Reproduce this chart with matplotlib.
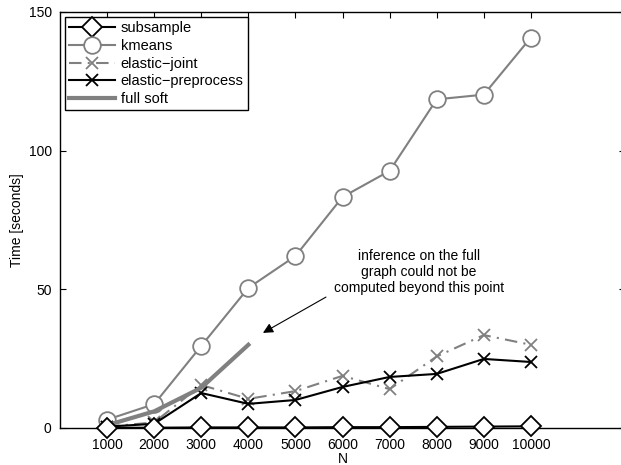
import matplotlib
matplotlib.use("Agg")
import matplotlib.pyplot as plt

plt.rcParams['font.family'] = ['Liberation Sans', 'DejaVu Sans']

N = [1000, 2000, 3000, 4000, 5000, 6000, 7000, 8000, 9000, 10000]
subsample = [0.1, 0.1, 0.2, 0.2, 0.2, 0.3, 0.3, 0.4, 0.5, 0.6]
kmeans = [3.0, 8.6, 29.6, 50.5, 62.0, 83.3, 92.7, 118.5, 120.2, 140.8]
elastic_joint = [0.5, 2.0, 15.5, 10.5, 13.3, 18.8, 14.0, 25.8, 33.5, 30.0]
elastic_pre = [0.5, 1.5, 12.6, 8.7, 10.1, 14.8, 18.4, 19.5, 24.9, 23.8]
N_soft = [1000, 2000, 3000, 4000]
full_soft = [1.0, 6.0, 14.5, 30.0]

fig = plt.figure(figsize=(6.21, 4.65), dpi=100)
ax = fig.add_axes([0.0966, 0.0796, 0.910, 0.8946])

gray = '#808080'
ax.plot(N, subsample, color='black', lw=1.5, marker='D', markersize=10,
        markerfacecolor='white', markeredgecolor='black', markeredgewidth=1.3,
        label='subsample', zorder=5, clip_on=False)
ax.plot(N, kmeans, color=gray, lw=1.5, marker='o', markersize=12,
        markerfacecolor='white', markeredgecolor=gray, markeredgewidth=1.3,
        label='kmeans', zorder=3)
ax.plot(N, elastic_joint, color=gray, lw=1.5, ls=(0, (6, 3, 1, 3)), marker='x',
        markersize=8, markeredgewidth=1.3, label='elastic\u2212joint', zorder=3)
ax.plot(N, elastic_pre, color='black', lw=1.5, marker='x', markersize=8,
        markeredgewidth=1.3, label='elastic\u2212preprocess', zorder=4)
ax.plot(N_soft, full_soft, color=gray, lw=3, solid_capstyle='projecting',
        label='full soft', zorder=4)

ax.set_xlim(0, 12000)
ax.set_ylim(0, 150)
ax.set_xticks(N)
ax.set_yticks([0, 50, 100, 150])
ax.tick_params(direction='in', top=True, right=True, labelsize=10, length=4, pad=6)
ax.tick_params(axis='x', pad=7)
for s in ax.spines.values():
    s.set_linewidth(1.0)

ax.set_xlabel('N', fontsize=10, labelpad=0)
ax.set_ylabel('Time [seconds]', fontsize=10, labelpad=3)

ax.text(7622, 56.3, 'inference on the full\ngraph could not be\ncomputed beyond this point',
        ha='center', va='center', fontsize=10, linespacing=1.2)
ax.annotate('', xy=(4310, 34.3), xytext=(5648, 47.2),
            arrowprops=dict(arrowstyle='-|>', color='black', lw=0.8,
                            shrinkA=0, shrinkB=0, mutation_scale=15))

leg = ax.legend(loc='upper left', fontsize=10.5, handlelength=3.1, framealpha=1,
                fancybox=False, edgecolor='black', borderaxespad=0.35,
                labelspacing=0.25, borderpad=0.3, handletextpad=0.4)
leg.get_frame().set_linewidth(1.0)

fig.savefig('out.png', dpi=100)
